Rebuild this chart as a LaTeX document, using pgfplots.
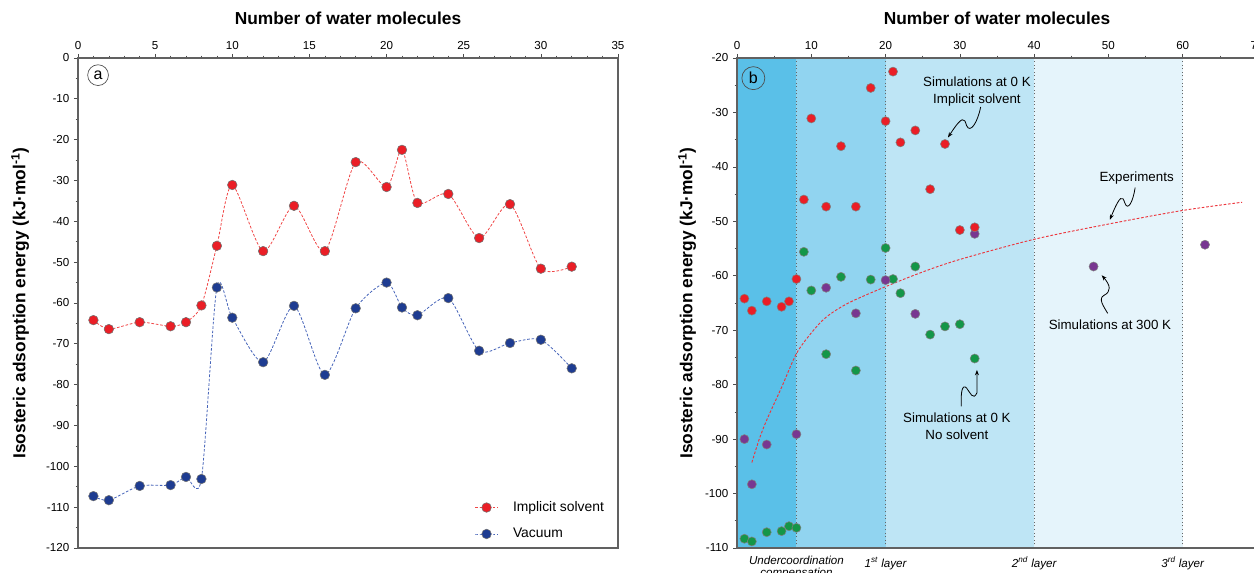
\documentclass[border=0pt]{standalone}
\usepackage{pgfplots}
\pgfplotsset{compat=1.18}
\usepackage{pgfplotstable}
\usepackage{fontspec}
\setmainfont{Liberation Sans}
\usetikzlibrary{arrows.meta}

\definecolor{cred}{RGB}{234,30,38}
\definecolor{lred}{RGB}{240,70,70}
\definecolor{cblue}{RGB}{30,60,145}
\definecolor{lblue}{RGB}{70,100,185}
\definecolor{cgreen}{RGB}{20,150,72}
\definecolor{cpurple}{RGB}{120,55,145}
\definecolor{bandA}{RGB}{90,192,232}
\definecolor{bandB}{RGB}{145,212,240}
\definecolor{bandC}{RGB}{190,229,245}
\definecolor{bandD}{RGB}{229,244,251}

\pgfplotstableread{
x y
1 -64.2
2 -66.4
4 -64.7
6 -65.7
7 -64.7
8 -60.6
9 -46.0
10 -31.1
12 -47.3
14 -36.2
16 -47.3
18 -25.5
20 -31.6
21 -22.5
22 -35.5
24 -33.3
26 -44.1
28 -35.8
30 -51.6
32 -51.1
}\implicit

\pgfplotstableread{
x y
1 -107.3
2 -108.3
4 -104.8
6 -104.6
7 -102.6
8 -103.1
9 -56.2
10 -63.6
12 -74.5
14 -60.7
16 -77.6
18 -61.3
20 -55.0
21 -61.1
22 -63.0
24 -58.8
26 -71.7
28 -69.8
30 -69.0
32 -76.0
}\vacuum

\pgfplotstableread{
x y
1 -108.3
2 -108.8
4 -107.1
6 -106.9
7 -106.0
8 -106.3
9 -55.6
10 -62.7
12 -74.4
14 -60.2
16 -77.4
18 -60.7
20 -54.9
21 -60.6
22 -63.2
24 -58.3
26 -70.8
28 -69.3
30 -68.9
32 -75.2
}\nosolvent

\pgfplotstableread{
x y
1 -90.0
2 -98.3
4 -91.0
8 -89.1
12 -62.2
16 -66.9
20 -60.8
24 -67.0
32 -52.3
48 -58.3
63 -54.3
}\hot

\pgfplotstableread{
x y
2 -94.3
3 -90.0
4 -86.5
6 -80.5
8 -74.3
10 -70.5
12 -67.6
15 -65.0
20 -62.0
25 -59.3
30 -57.0
40 -53.3
50 -50.5
60 -48.0
68 -46.5
}\experiments

\pgfplotsset{
  myaxis/.style={
    scale only axis, height=367.5pt,
    axis on top, clip=false,
    tick align=outside,
    xtick pos=right, xticklabel pos=right, ytick pos=left,
    axis line style={black!62, line width=0.8pt},
    major tick length=3pt, minor tick length=1.8pt,
    every tick/.style={black!70, line width=0.5pt},
    tick label style={font=\fontsize{8.7}{10}\selectfont},
    /pgf/number format/assume math mode=true,
    xlabel={Number of water molecules},
    ylabel={Isosteric adsorption energy (kJ·mol\textsuperscript{-1})},
    xlabel style={font=\fontsize{13}{15}\selectfont\bfseries, at={(axis description cs:0.5,1)}, anchor=base, yshift=24.75pt, inner sep=0pt},
  }
}

\begin{document}
\begin{tikzpicture}
\useasboundingbox (0,0) rectangle (940.5pt,429.75pt);
\clip (0,0) rectangle (940.5pt,429.75pt);

% ---------- panel a ----------
\begin{axis}[myaxis,
  at={(58.5pt,18.75pt)}, anchor=south west, width=405pt,
  xmin=0, xmax=35, ymin=-120, ymax=0,
  xtick={0,5,...,35}, minor x tick num=4,
  ytick={-120,-110,...,0}, minor y tick num=1,
  ylabel style={font=\fontsize{13}{15}\selectfont\bfseries, at={(axis description cs:-0.107,0.5)}, anchor=center, rotate=0},
  legend style={draw=none, fill=none, inner sep=0pt, at={(axis cs:25.7,-113.3)}, anchor=west,
    row sep=7pt, font=\fontsize{10.4}{12}\selectfont,
    /tikz/every odd column/.append style={column sep=9pt}},
  legend cell align=left,
]
\addplot[smooth, tension=0.45, dash pattern=on 2pt off 1.3pt, color=lred, line width=0.6pt,
  mark=*, mark size=3.6pt, mark options={solid, fill=cred, draw=black!55, line width=0.4pt}]
  table {\implicit};
\addlegendentry{Implicit solvent}
\addplot[smooth, tension=0.45, dash pattern=on 2pt off 1.3pt, color=lblue, line width=0.6pt,
  mark=*, mark size=3.6pt, mark options={solid, fill=cblue, draw=black!55, line width=0.4pt}]
  table {\vacuum};
\addlegendentry{Vacuum}
\node[draw=black!70, circle, inner sep=2.2pt, line width=0.5pt, font=\fontsize{12}{12}\selectfont] at (axis cs:1.3,-4.2) {a};
\end{axis}

% ---------- panel b ----------
\begin{axis}[myaxis,
  at={(552.75pt,18.75pt)}, anchor=south west, width=390pt,
  xmin=0, xmax=70, ymin=-110, ymax=-20,
  xtick={0,10,...,70}, minor x tick num=1,
  ytick={-110,-100,...,-20}, minor y tick num=1,
  ylabel style={font=\fontsize{13}{15}\selectfont\bfseries, at={(axis description cs:-0.096,0.5)}, anchor=center, rotate=0},
]
\fill[bandA] (axis cs:0,-110) rectangle (axis cs:8,-20);
\fill[bandB] (axis cs:8,-110) rectangle (axis cs:20,-20);
\fill[bandC] (axis cs:20,-110) rectangle (axis cs:40,-20);
\fill[bandD] (axis cs:40,-110) rectangle (axis cs:60,-20);
\draw[black!60, dotted, line width=0.7pt] (axis cs:8,-110) -- (axis cs:8,-20);
\draw[black!60, dotted, line width=0.7pt] (axis cs:20,-110) -- (axis cs:20,-20);
\draw[black!60, dotted, line width=0.7pt] (axis cs:40,-110) -- (axis cs:40,-20);
\draw[black!60, dotted, line width=0.7pt] (axis cs:60,-110) -- (axis cs:60,-20);
\addplot[smooth, tension=0.5, dash pattern=on 2pt off 1.3pt, color=cred!90, line width=0.7pt, no marks] table {\experiments};
\addplot[only marks, mark=*, mark size=3.4pt, mark options={fill=cgreen, draw=black!50, line width=0.4pt}] table {\nosolvent};
\addplot[only marks, mark=*, mark size=3.4pt, mark options={fill=cpurple, draw=black!50, line width=0.4pt}] table {\hot};
\addplot[only marks, mark=*, mark size=3.4pt, mark options={fill=cred, draw=black!50, line width=0.4pt}] table {\implicit};

\node[draw=black!70, circle, inner sep=2.2pt, line width=0.5pt, font=\fontsize{12}{12}\selectfont] at (axis cs:2.2,-23.7) {b};

% annotations
\node[align=center, font=\fontsize{10}{12.75}\selectfont] at (axis cs:32.3,-26.2) {Simulations at 0 K\\Implicit solvent};
\draw[black, line width=0.6pt, -{Stealth[length=4pt,width=3pt]}]
  (axis cs:32.8,-29.0) .. controls (axis cs:32.4,-31.8) and (axis cs:31.4,-34.0) .. (axis cs:30.9,-32.4)
  .. controls (axis cs:30.6,-31.0) and (axis cs:30.4,-30.4) .. (axis cs:28.4,-34.6);

\node[font=\fontsize{10}{12.75}\selectfont] at (axis cs:53.8,-42.1) {Experiments};
\draw[black, line width=0.6pt, -{Stealth[length=4pt,width=3pt]}]
  (axis cs:53.6,-43.8) .. controls (axis cs:53.3,-46.5) and (axis cs:52.6,-48.2) .. (axis cs:52.2,-46.6)
  .. controls (axis cs:51.9,-45.3) and (axis cs:51.6,-45.0) .. (axis cs:50.2,-49.7);

\node[font=\fontsize{10}{12.75}\selectfont] at (axis cs:50.2,-69.0) {Simulations at 300 K};
\draw[black, line width=0.6pt, -{Stealth[length=4pt,width=3pt]}]
  (axis cs:49.9,-66.9) .. controls (axis cs:49.3,-65.5) and (axis cs:48.6,-64.2) .. (axis cs:49.4,-63.6)
  .. controls (axis cs:50.4,-62.9) and (axis cs:50.3,-61.8) .. (axis cs:49.1,-59.9);

\node[align=center, font=\fontsize{10}{12.75}\selectfont] at (axis cs:29.6,-87.6) {Simulations at 0 K\\No solvent};
\draw[black, line width=0.6pt, -{Stealth[length=4pt,width=3pt]}]
  (axis cs:30.2,-84.0) .. controls (axis cs:30.1,-81.5) and (axis cs:30.3,-79.8) .. (axis cs:30.9,-80.6)
  .. controls (axis cs:31.4,-81.5) and (axis cs:31.8,-83.0) .. (axis cs:32.3,-81.5)
  -- (axis cs:32.3,-77.3);

% layer labels
\node[align=center, anchor=base, font=\itshape\fontsize{8.7}{9}\selectfont, yshift=-21.75pt] at (axis cs:8,-110) {Undercoordination\\compensation};
\node[anchor=base, font=\itshape\fontsize{8.7}{9}\selectfont, yshift=-14.5pt] at (axis cs:20,-110) {1\textsuperscript{st} layer};
\node[anchor=base, font=\itshape\fontsize{8.7}{9}\selectfont, yshift=-14.5pt] at (axis cs:40,-110) {2\textsuperscript{nd} layer};
\node[anchor=base, font=\itshape\fontsize{8.7}{9}\selectfont, yshift=-14.5pt] at (axis cs:60,-110) {3\textsuperscript{rd} layer};
\end{axis}
\end{tikzpicture}
\end{document}
